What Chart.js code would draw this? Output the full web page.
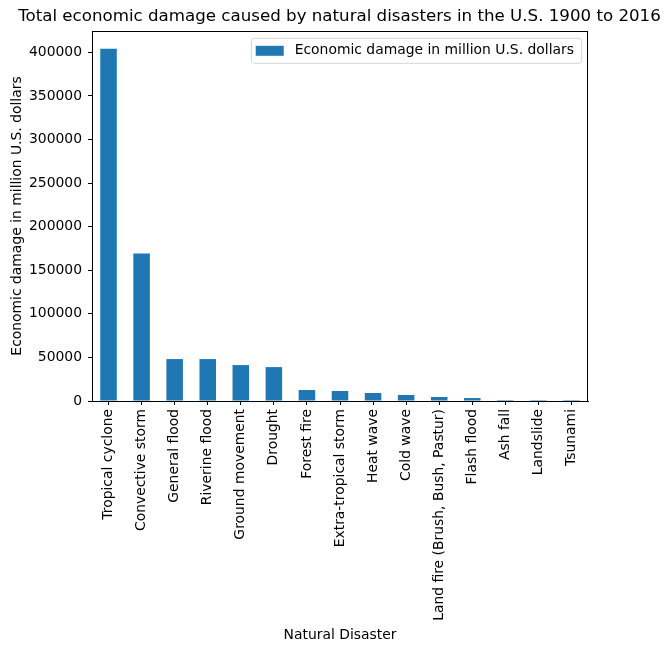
<!DOCTYPE html>
<html>
<head>
<meta charset="utf-8">
<script src="https://cdn.jsdelivr.net/npm/chart.js@4/dist/chart.umd.min.js"></script>
<style>
html,body{margin:0;padding:0;background:#fff;}
#wrap{width:670px;height:652px;}
</style>
</head>
<body>
<div id="wrap"><canvas id="c" width="670" height="652"></canvas></div>
<script>
const categories = ["Tropical cyclone","Convective storm","General flood","Riverine flood","Ground movement","Drought","Forest fire","Extra-tropical storm","Heat wave","Cold wave","Land fire (Brush, Bush, Pastur)","Flash flood","Ash fall","Landslide","Tsunami"];
const damage = [404200,169100,48100,48100,41200,38900,12600,11500,9200,6900,4600,3400,1150,60,20];
const seriesName = "Economic damage in million U.S. dollars";
const yTicks = [0,50000,100000,150000,200000,250000,300000,350000,400000];

const FONT = "'DejaVu Sans', sans-serif";
const BAR_COLOR = '#1f77b4';

function roundRect(ctx, x0, y0, x1, y1, r) {
  ctx.beginPath();
  ctx.moveTo(x0 + r, y0);
  ctx.lineTo(x1 - r, y0); ctx.quadraticCurveTo(x1, y0, x1, y0 + r);
  ctx.lineTo(x1, y1 - r); ctx.quadraticCurveTo(x1, y1, x1 - r, y1);
  ctx.lineTo(x0 + r, y1); ctx.quadraticCurveTo(x0, y1, x0, y1 - r);
  ctx.lineTo(x0, y0 + r); ctx.quadraticCurveTo(x0, y0, x0 + r, y0);
  ctx.closePath();
}

const framePlugin = {
  id: 'frame',
  afterDatasetsDraw(chart) {
    const ctx = chart.ctx, a = chart.chartArea;
    ctx.save();
    const label = chart.data.datasets[0].label;
    ctx.font = "13.9px " + FONT;
    const tw = ctx.measureText(label).width;
    const fr = a.right - 6.3;
    const textEnd = fr - 7.7;
    const ts = textEnd - tw;
    const fl = ts - 43.3;
    const ft = a.top + 7.3, fb = a.top + 32.3;
    const yc = (ft + fb) / 2;
    roundRect(ctx, fl, ft, fr, fb, 3);
    ctx.fillStyle = 'rgba(255,255,255,0.8)';
    ctx.fill();
    ctx.strokeStyle = '#d4d4d4';
    ctx.lineWidth = 1;
    ctx.stroke();
    ctx.fillStyle = chart.data.datasets[0].backgroundColor;
    ctx.fillRect(ts - 39, yc - 5, 28, 10);
    ctx.fillStyle = '#000';
    ctx.textBaseline = 'middle';
    ctx.textAlign = 'left';
    ctx.fillText(label, ts, yc);
    ctx.restore();
  },
  afterDraw(chart) {
    const ctx = chart.ctx, a = chart.chartArea;
    ctx.save();
    ctx.strokeStyle = '#000';
    ctx.lineWidth = 1;
    ctx.strokeRect(Math.round(a.left) + 0.5, Math.round(a.top) + 0.5, Math.round(a.right - a.left) - 1, Math.round(a.bottom - a.top));
    ctx.restore();
  }
};

new Chart(document.getElementById('c'), {
  type: 'bar',
  data: {
    labels: categories,
    datasets: [{
      label: seriesName,
      data: damage,
      backgroundColor: BAR_COLOR,
      borderWidth: 0,
      inflateAmount: 0,
      barPercentage: 0.5,
      categoryPercentage: 1.0
    }]
  },
  options: {
    responsive: false,
    animation: false,
    devicePixelRatio: 1,
    layout: { padding: { left: 9, right: 0, top: 0, bottom: 4 } },
    plugins: {
      title: {
        display: true,
        text: "Total economic damage caused by natural disasters in the U.S. 1900 to 2016",
        color: '#000',
        font: { family: FONT, size: 16.67, weight: 'normal' },
        padding: { top: 7, bottom: 4 }
      },
      legend: { display: false },
      tooltip: { enabled: false }
    },
    scales: {
      x: {
        offset: true,
        grid: { display: true, offset: false, drawOnChartArea: false, drawTicks: true, tickLength: 4, color: '#000' },
        border: { display: true, color: '#000' },
        ticks: { color: '#000', font: { family: FONT, size: 13.9 }, minRotation: 90, maxRotation: 90, autoSkip: false, padding: 4 },
        title: { display: true, text: 'Natural Disaster', color: '#000', font: { family: FONT, size: 13.9 }, padding: { top: 4, bottom: 4.7 } },
        afterFit(s) { s.height = 247; }
      },
      y: {
        min: 0,
        max: 424500,
        grid: { display: true, drawOnChartArea: false, drawTicks: true, tickLength: 4, color: '#000' },
        border: { display: true, color: '#000' },
        afterBuildTicks(s) { s.ticks = yTicks.map(v => ({ value: v })); },
        ticks: { color: '#000', font: { family: FONT, size: 13.9 }, padding: 6, callback: v => String(v) },
        title: { display: true, text: 'Economic damage in million U.S. dollars', color: '#000', font: { family: FONT, size: 13.9 }, padding: 0 },
        afterFit(s) { s.width = 83; }
      },
      y2: {
        position: 'right',
        display: true,
        grid: { display: false },
        border: { display: false },
        ticks: { display: false },
        afterFit(s) { s.width = 82; }
      }
    }
  },
  plugins: [framePlugin]
});
</script>
</body>
</html>
